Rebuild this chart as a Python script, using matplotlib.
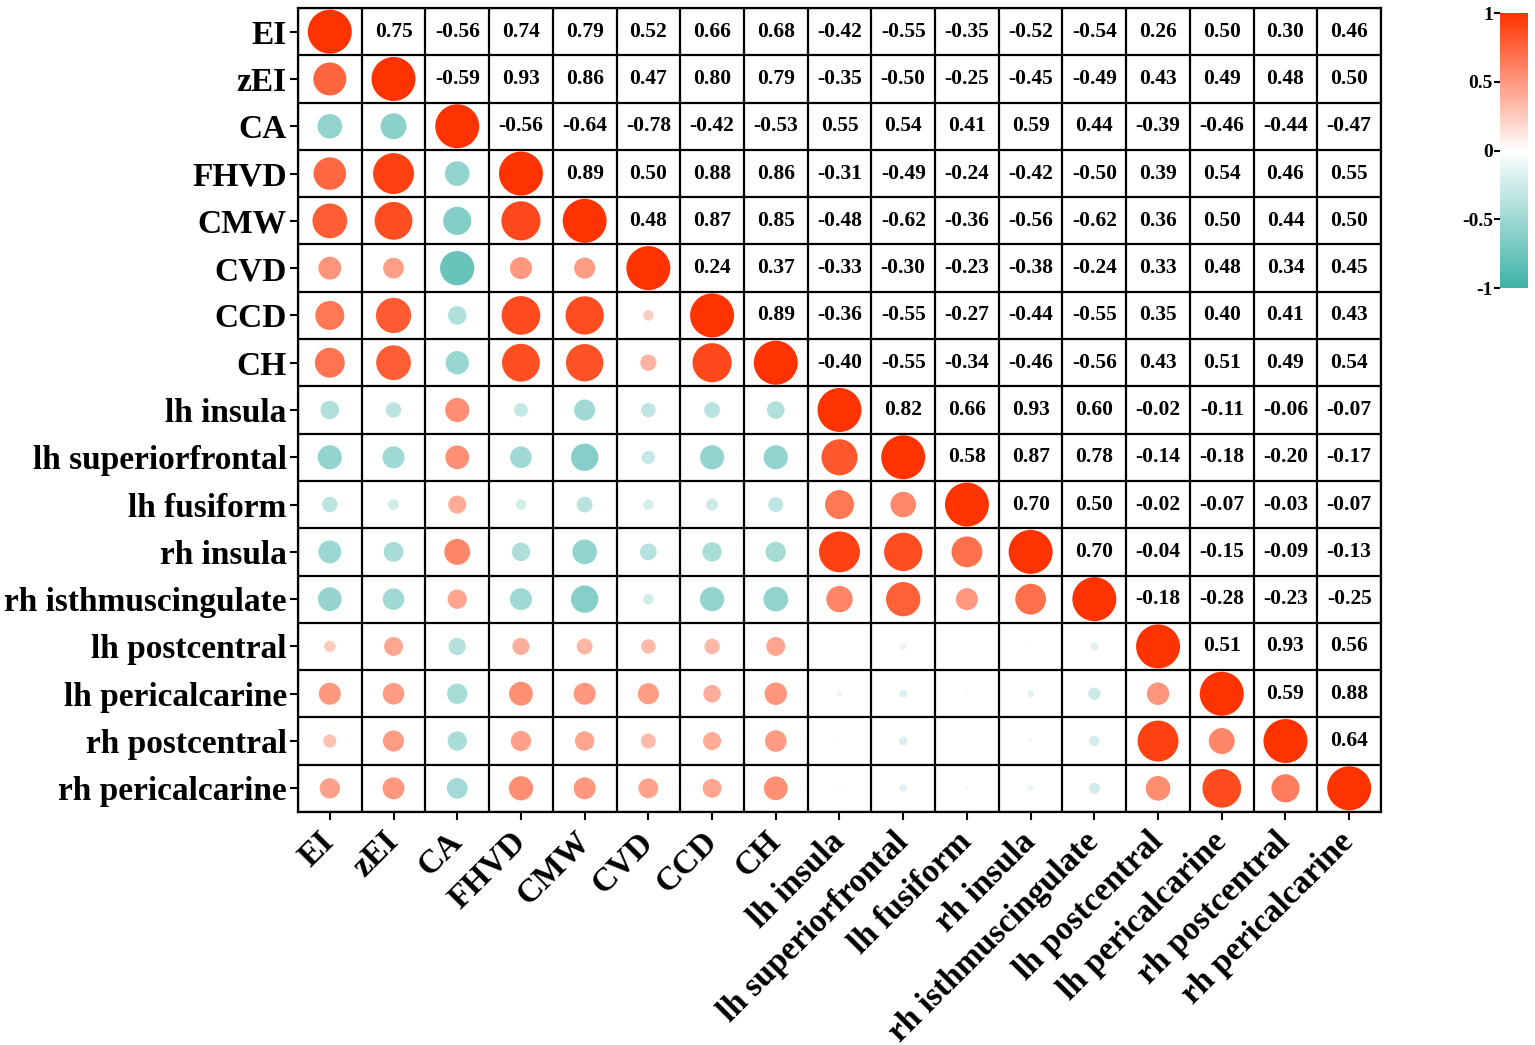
import numpy as np
import matplotlib
matplotlib.use("Agg")
import matplotlib.pyplot as plt
from matplotlib.colors import LinearSegmentedColormap, Normalize
from matplotlib.patches import Ellipse
from matplotlib.cm import ScalarMappable

plt.rcParams['font.family'] = ['Liberation Serif', 'DejaVu Serif']
plt.rcParams['font.weight'] = 'bold'

labels = ['EI', 'zEI', 'CA', 'FHVD', 'CMW', 'CVD', 'CCD', 'CH',
          'lh insula', 'lh superiorfrontal', 'lh fusiform', 'rh insula',
          'rh isthmuscingulate', 'lh postcentral', 'lh pericalcarine',
          'rh postcentral', 'rh pericalcarine']

# upper triangle, row by row (values right of the diagonal)
r_EI = [0.75, -0.56, 0.74, 0.79, 0.52, 0.66, 0.68, -0.42, -0.55, -0.35, -0.52, -0.54, 0.26, 0.50, 0.30, 0.46]
r_zEI = [-0.59, 0.93, 0.86, 0.47, 0.80, 0.79, -0.35, -0.50, -0.25, -0.45, -0.49, 0.43, 0.49, 0.48, 0.50]
r_CA = [-0.56, -0.64, -0.78, -0.42, -0.53, 0.55, 0.54, 0.41, 0.59, 0.44, -0.39, -0.46, -0.44, -0.47]
r_FHVD = [0.89, 0.50, 0.88, 0.86, -0.31, -0.49, -0.24, -0.42, -0.50, 0.39, 0.54, 0.46, 0.55]
r_CMW = [0.48, 0.87, 0.85, -0.48, -0.62, -0.36, -0.56, -0.62, 0.36, 0.50, 0.44, 0.50]
r_CVD = [0.24, 0.37, -0.33, -0.30, -0.23, -0.38, -0.24, 0.33, 0.48, 0.34, 0.45]
r_CCD = [0.89, -0.36, -0.55, -0.27, -0.44, -0.55, 0.35, 0.40, 0.41, 0.43]
r_CH = [-0.40, -0.55, -0.34, -0.46, -0.56, 0.43, 0.51, 0.49, 0.54]
r_lh_insula = [0.82, 0.66, 0.93, 0.60, -0.02, -0.11, -0.06, -0.07]
r_lh_superiorfrontal = [0.58, 0.87, 0.78, -0.14, -0.18, -0.20, -0.17]
r_lh_fusiform = [0.70, 0.50, -0.02, -0.07, -0.03, -0.07]
r_rh_insula = [0.70, -0.04, -0.15, -0.09, -0.13]
r_rh_isthmuscingulate = [-0.18, -0.28, -0.23, -0.25]
r_lh_postcentral = [0.51, 0.93, 0.56]
r_lh_pericalcarine = [0.59, 0.88]
r_rh_postcentral = [0.64]

upper_rows = [r_EI, r_zEI, r_CA, r_FHVD, r_CMW, r_CVD, r_CCD, r_CH,
              r_lh_insula, r_lh_superiorfrontal, r_lh_fusiform, r_rh_insula,
              r_rh_isthmuscingulate, r_lh_postcentral, r_lh_pericalcarine,
              r_rh_postcentral, []]

n = len(labels)
corr = np.eye(n)
for i, row in enumerate(upper_rows):
    for k, v in enumerate(row):
        j = i + 1 + k
        corr[i, j] = v
        corr[j, i] = v

cmap = LinearSegmentedColormap.from_list('corr', ['#3DB2A6', '#FFFFFF', '#FF3300'])
norm = Normalize(-1, 1)

fig = plt.figure(figsize=(15.35, 10.45), dpi=100)
ax = fig.add_axes([0.1941, 0.2230, 0.7056, 0.7693])

for i in range(n):
    for j in range(n):
        v = corr[i, j]
        if j > i:
            ax.text(j, i, f'{v:.2f}', ha='center', va='center',
                    fontsize=15.5, fontweight='bold')
        else:
            a = abs(v)
            ax.add_patch(Ellipse((j, i), 0.69 * a, 0.93 * a,
                                 facecolor=cmap(norm(v)), edgecolor='none'))

ax.set_xlim(-0.5, n - 0.5)
ax.set_ylim(n - 0.5, -0.5)
ax.vlines(np.arange(-0.5, n), -0.5, n - 0.5, color='black', lw=1.6)
ax.hlines(np.arange(-0.5, n), -0.5, n - 0.5, color='black', lw=1.6)
for s in ax.spines.values():
    s.set_linewidth(1.6)

ax.set_xticks(range(n))
ax.set_yticks(range(n))
ax.set_yticklabels(labels, fontsize=24, fontweight='bold')
ax.set_xticklabels(labels, fontsize=24, fontweight='bold', rotation=45,
                   ha='right', va='center', rotation_mode='anchor')
ax.tick_params(axis='both', length=6, width=1.5, pad=2)
ax.tick_params(axis='x', pad=12)

cax = fig.add_axes([0.9772, 0.7244, 0.0182, 0.263])
cb = fig.colorbar(ScalarMappable(norm=norm, cmap=cmap), cax=cax)
cb.outline.set_visible(False)
cb.set_ticks([-1, -0.5, 0, 0.5, 1])
cb.set_ticklabels(['-1', '-0.5', '0', '0.5', '1'])
cax.yaxis.set_ticks_position('left')
cax.yaxis.set_label_position('left')
cax.tick_params(length=4, width=1.5, labelsize=14, pad=1)
for t in cax.get_yticklabels():
    t.set_fontweight('bold')

fig.savefig('out.png', dpi=100)
